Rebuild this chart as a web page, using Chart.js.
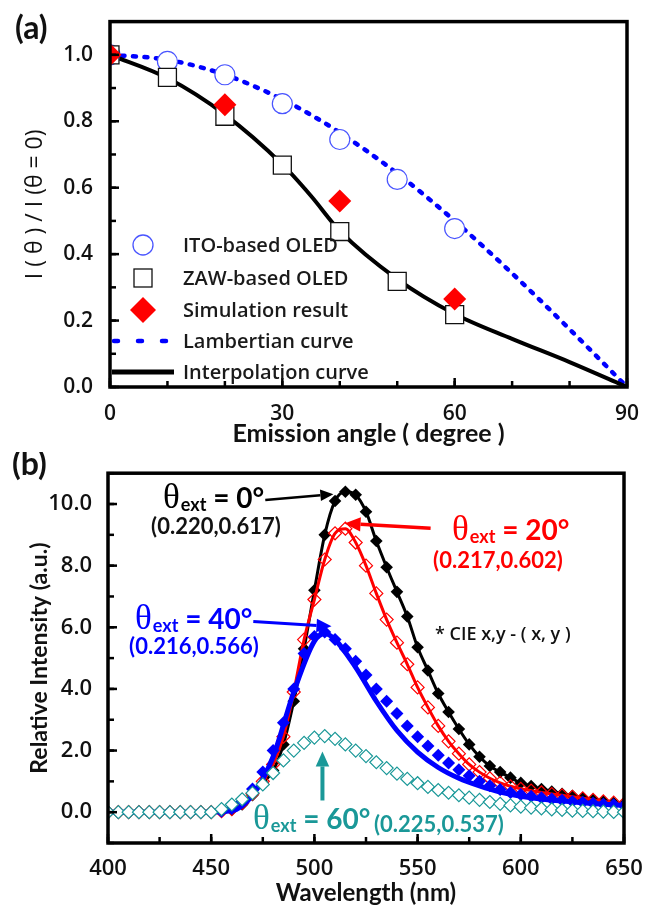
<!DOCTYPE html>
<html>
<head>
<meta charset="utf-8">
<script src="https://cdn.jsdelivr.net/npm/chart.js@4.4.1/dist/chart.umd.min.js"></script>
<style>
  body { margin: 0; background: #fff; }
  canvas { display: block; }
</style>
</head>
<body>
<canvas id="chartA" width="661" height="452"></canvas>
<canvas id="chartB" width="661" height="457"></canvas>
<script>
const FONT = "Lato, 'Open Sans', sans-serif";
const TICK_FONT = "'Open Sans', Lato, sans-serif";
const TEAL = '#1a9898';

// ---- (a) angular emission profile ----
const angleTicks = [0, 30, 60, 90];
const ratioTicks = [0, 0.2, 0.4, 0.6, 0.8, 1.0];
const measuredAngles = [0, 10, 20, 30, 40, 50, 60];
const itoRatio = [1.0, 0.98, 0.94, 0.853, 0.745, 0.625, 0.477];
const zawRatio = [1.0, 0.932, 0.815, 0.668, 0.468, 0.318, 0.218];
const simAngles = [0, 20, 40, 60];
const simRatio = [1.0, 0.85, 0.56, 0.265];
const curveAngles = [0, 10, 20, 30, 35, 40, 50, 60, 70, 80, 90];
const lambertRatio = [1.0, 0.985, 0.94, 0.866, 0.819, 0.766, 0.643, 0.5, 0.342, 0.174, 0.0];
const interpRatio = [1.0, 0.93, 0.82, 0.67, 0.575, 0.47, 0.325, 0.22, 0.145, 0.075, 0.0];
const legendLabelsA = ['ITO-based OLED', 'ZAW-based OLED', 'Simulation result', 'Lambertian curve', 'Interpolation curve'];

// ---- (b) spectra at different viewing angles ----
const wavelengthTicks = [400, 450, 500, 550, 600, 650];
const intensityTicks = [0, 2, 4, 6, 8, 10];
const wavelengths = [400, 405, 410, 415, 420, 425, 430, 435, 440, 445, 450, 455,
  460, 465, 470, 475, 480, 485, 490, 495, 500, 505,
  510, 515, 520, 525, 530, 535, 540, 545, 550, 555,
  560, 565, 570, 575, 580, 585, 590, 595, 600, 605,
  610, 615, 620, 625, 630, 635, 640, 645, 650];
const spec0 = [0, 0, 0, 0, 0, 0, 0, 0, 0, 0, 0, 0.02,
  0.08, 0.25, 0.55, 0.95, 1.35, 2.2, 3.6, 5.3, 7.2, 9.0,
  10.1, 10.4, 10.3, 9.75, 8.8, 7.95, 7.15, 6.35, 5.35, 4.6,
  3.85, 3.25, 2.7, 2.2, 1.8, 1.5, 1.3, 1.12, 0.95, 0.85,
  0.75, 0.67, 0.6, 0.53, 0.46, 0.4, 0.35, 0.3, 0.26];
const spec20 = [0, 0, 0, 0, 0, 0, 0, 0, 0, 0, 0, 0.03,
  0.1, 0.3, 0.6, 1.0, 1.55, 2.45, 3.9, 5.6, 6.9, 8.2,
  9.05, 9.2, 8.75, 8.0, 7.1, 6.25, 5.5, 4.8, 4.05, 3.4,
  2.8, 2.3, 1.9, 1.55, 1.3, 1.1, 0.95, 0.84, 0.76, 0.7,
  0.64, 0.59, 0.55, 0.5, 0.45, 0.4, 0.35, 0.31, 0.27];
const spec40 = [0, 0, 0, 0, 0, 0, 0, 0, 0, 0, 0, 0.03,
  0.12, 0.35, 0.75, 1.3, 2.0, 2.9, 4.0, 5.15, 5.7, 5.85,
  5.6, 5.3, 4.9, 4.45, 4.0, 3.6, 3.2, 2.8, 2.45, 2.15,
  1.85, 1.6, 1.38, 1.18, 1.0, 0.86, 0.74, 0.64, 0.57, 0.52,
  0.47, 0.43, 0.39, 0.35, 0.32, 0.29, 0.26, 0.24, 0.22];
const spec60 = [0, 0, 0, 0, 0, 0, 0, 0, 0, 0, 0, 0.1,
  0.25, 0.42, 0.62, 0.9, 1.27, 1.68, 2.0, 2.25, 2.42, 2.47,
  2.38, 2.2, 2.0, 1.82, 1.62, 1.43, 1.25, 1.08, 0.94, 0.82,
  0.72, 0.63, 0.55, 0.47, 0.4, 0.33, 0.27, 0.22, 0.18, 0.15,
  0.12, 0.09, 0.07, 0.05, 0.04, 0.03, 0.02, 0.01, 0];
// smooth curve under the 40° markers
const fit40Wavelengths = [400, 420, 440, 460, 470, 480, 490, 500, 505, 510, 520,
  530, 540, 550, 560, 570, 580, 590, 600, 620, 640, 650];
const fit40 = [0, 0, 0, 0.05, 0.55, 1.8, 3.9, 5.55, 5.8, 5.6, 4.7,
  3.6, 2.65, 1.95, 1.45, 1.1, 0.85, 0.65, 0.52, 0.36, 0.26, 0.22];
const angleLabels = ['0°', '20°', '40°', '60°'];
const cieLabels = ['(0.220,0.617)', '(0.217,0.602)', '(0.216,0.566)', '(0.225,0.537)'];

const pts = (xs, ys) => xs.map((x, i) => ({ x, y: ys[i] }));

// box around the plot plus inward major/minor ticks on left and bottom
const framePlugin = {
  id: 'frame',
  afterDatasetsDraw(chart, args, opts) {
    const { ctx, chartArea: a, scales: { x, y } } = chart;
    ctx.save();
    ctx.strokeStyle = '#000';
    ctx.lineWidth = 2.5;
    const xTick = (v, len) => {
      const p = x.getPixelForValue(v);
      ctx.beginPath(); ctx.moveTo(p, a.bottom); ctx.lineTo(p, a.bottom - len); ctx.stroke();
    };
    const yTick = (v, len) => {
      const p = y.getPixelForValue(v);
      ctx.beginPath(); ctx.moveTo(a.left, p); ctx.lineTo(a.left + len, p); ctx.stroke();
    };
    for (let v = x.min; v <= x.max + 1e-9; v += opts.xStep) xTick(v, 6);
    for (let v = y.min; v <= y.max + 1e-9; v += opts.yStep) yTick(v, 6);
    opts.xMajor.forEach(v => xTick(v, 9));
    opts.yMajor.forEach(v => yTick(v, 9));
    ctx.lineWidth = 3.5;
    ctx.strokeRect(a.left, a.top, a.right - a.left, a.bottom - a.top);
    ctx.restore();
  }
};

function panelLabel(ctx, text, x, y) {
  ctx.save();
  ctx.font = `bold 32px ${FONT}`;
  ctx.fillStyle = '#111';
  ctx.textBaseline = 'middle';
  ctx.fillText(text, x, y);
  ctx.restore();
}

// legend drawn inside panel (a)
const legendA = {
  id: 'legendA',
  afterDraw(chart) {
    const ctx = chart.ctx;
    const sx = 143, tx = 183;
    const rows = [245, 278, 310, 341, 372];
    ctx.save();
    ctx.lineWidth = 1.3;
    ctx.strokeStyle = '#4a55ff';
    ctx.beginPath(); ctx.arc(sx, rows[0], 10, 0, Math.PI * 2); ctx.stroke();
    ctx.strokeStyle = '#111';
    ctx.strokeRect(sx - 9, rows[1] - 9, 18, 18);
    ctx.fillStyle = '#ff0000';
    ctx.beginPath();
    ctx.moveTo(sx - 13, rows[2]); ctx.lineTo(sx, rows[2] - 13);
    ctx.lineTo(sx + 13, rows[2]); ctx.lineTo(sx, rows[2] + 13);
    ctx.closePath(); ctx.fill();
    ctx.strokeStyle = '#0000ff';
    ctx.lineWidth = 4.5;
    ctx.lineCap = 'round';
    ctx.setLineDash([4, 20]);
    ctx.beginPath(); ctx.moveTo(114, rows[3]); ctx.lineTo(172, rows[3]); ctx.stroke();
    ctx.setLineDash([]);
    ctx.lineCap = 'butt';
    ctx.strokeStyle = '#000';
    ctx.lineWidth = 5;
    ctx.beginPath(); ctx.moveTo(112, rows[4]); ctx.lineTo(174, rows[4]); ctx.stroke();
    ctx.font = `600 20px ${TICK_FONT}`;
    ctx.fillStyle = '#1a1a1a';
    ctx.textBaseline = 'middle';
    legendLabelsA.forEach((t, i) => ctx.fillText(t, tx, rows[i] + 1));
    ctx.restore();
    panelLabel(ctx, '(a)', 15, 29);
  }
};

function arrow(ctx, x0, y0, x1, y1, color, w, head) {
  const ang = Math.atan2(y1 - y0, x1 - x0);
  const bx = x1 - head * Math.cos(ang), by = y1 - head * Math.sin(ang);
  const hw = head * 0.45;
  ctx.strokeStyle = color; ctx.fillStyle = color; ctx.lineWidth = w;
  ctx.beginPath(); ctx.moveTo(x0, y0); ctx.lineTo(bx, by); ctx.stroke();
  ctx.beginPath();
  ctx.moveTo(x1, y1);
  ctx.lineTo(bx + hw * Math.sin(ang), by - hw * Math.cos(ang));
  ctx.lineTo(bx - hw * Math.sin(ang), by + hw * Math.cos(ang));
  ctx.closePath(); ctx.fill();
}

function drawTheta(ctx, x, y, angle, color) {
  ctx.fillStyle = color;
  ctx.textAlign = 'left';
  ctx.textBaseline = 'alphabetic';
  ctx.font = "35px 'Liberation Serif', serif";
  ctx.fillText('θ', x, y);
  x += ctx.measureText('θ').width + 1;
  ctx.font = `bold 18px ${FONT}`;
  ctx.fillText('ext', x, y + 3);
  x += ctx.measureText('ext').width;
  ctx.font = `bold 28px ${FONT}`;
  ctx.fillText(' = ' + angle, x, y);
}

function coordText(ctx, text, x, y, color, align) {
  ctx.fillStyle = color;
  ctx.textAlign = align;
  ctx.textBaseline = 'middle';
  ctx.font = `bold 22px ${FONT}`;
  ctx.fillText(text, x, y);
}

// arrows (in data units) and texts for panel (b); text y is relative to this canvas (top at 452)
const annotateB = {
  id: 'annotateB',
  afterDraw(chart) {
    const { ctx, scales: { x, y } } = chart;
    const px = v => x.getPixelForValue(v), py = v => y.getPixelForValue(v);
    ctx.save();
    arrow(ctx, px(476.2), py(10.13), px(509.2), py(10.32), '#000', 2.5, 13);
    arrow(ctx, px(556.3), py(9.21), px(514.6), py(9.37), '#ff0000', 3.5, 16);
    arrow(ctx, px(470.4), py(6.19), px(508.3), py(6.03), '#0000ff', 3, 15);
    arrow(ctx, px(503.9), py(0.38), px(503.9), py(1.97), TEAL, 4, 15);

    drawTheta(ctx, 163, 56, angleLabels[0], '#000');
    coordText(ctx, cieLabels[0], 216, 75, '#111', 'center');
    drawTheta(ctx, 452, 88, angleLabels[1], '#ff0000');
    coordText(ctx, cieLabels[1], 498, 109, '#ff0000', 'center');
    drawTheta(ctx, 135, 177, angleLabels[2], '#0000ff');
    coordText(ctx, cieLabels[2], 194, 195, '#0000ff', 'center');
    drawTheta(ctx, 253, 377, angleLabels[3], TEAL);
    coordText(ctx, cieLabels[3], 374, 373, TEAL, 'left');

    ctx.font = `600 18px ${TICK_FONT}`;
    ctx.fillStyle = '#111';
    ctx.textAlign = 'left';
    ctx.textBaseline = 'middle';
    ctx.fillText('* CIE x,y - ( x, y )', 435, 183);
    ctx.restore();
    panelLabel(ctx, '(b)', 12, 13);
  }
};

function tickFont(size) {
  return { family: TICK_FONT, size, weight: '600' };
}

// ---------- panel (a) ----------
new Chart(document.getElementById('chartA'), {
  type: 'scatter',
  data: {
    datasets: [
      {
        label: 'Simulation result', data: pts(simAngles, simRatio),
        pointStyle: 'rectRot', pointRadius: 11.5, pointBorderWidth: 0,
        pointBackgroundColor: '#ff0000', pointBorderColor: '#ff0000'
      },
      {
        label: 'ZAW-based OLED', data: pts(measuredAngles, zawRatio),
        pointStyle: 'rect', pointRadius: 12.7, pointBorderWidth: 1.3,
        pointBackgroundColor: '#fff', pointBorderColor: '#111'
      },
      {
        label: 'ITO-based OLED', data: pts(measuredAngles, itoRatio),
        pointStyle: 'circle', pointRadius: 10, pointBorderWidth: 1.2,
        pointBackgroundColor: '#fff', pointBorderColor: '#4a55ff'
      },
      {
        label: 'Interpolation curve', data: pts(curveAngles, interpRatio),
        showLine: true, pointRadius: 0, borderColor: '#000', borderWidth: 4,
        cubicInterpolationMode: 'monotone'
      },
      {
        label: 'Lambertian curve', data: pts(curveAngles, lambertRatio),
        showLine: true, pointRadius: 0, borderColor: '#0000ff', borderWidth: 4.5,
        borderDash: [3, 8.5], borderCapStyle: 'round',
        cubicInterpolationMode: 'monotone'
      }
    ]
  },
  options: {
    responsive: false,
    animation: false,
    events: [],
    layout: { padding: { top: 11, right: 34, left: 0, bottom: 0 } },
    plugins: {
      legend: { display: false },
      tooltip: { enabled: false },
      frame: { xStep: 10, yStep: 0.1, xMajor: angleTicks, yMajor: ratioTicks }
    },
    scales: {
      x: {
        type: 'linear', min: 0, max: 90,
        afterBuildTicks: s => { s.ticks = angleTicks.map(v => ({ value: v })); },
        afterFit: s => { s.height = 65; },
        grid: { display: false }, border: { display: false },
        ticks: { padding: 6, color: '#111', font: tickFont(21), callback: v => v },
        title: {
          display: true, text: 'Emission angle ( degree )', color: '#111',
          font: { family: FONT, size: 25, weight: 'bold' }, padding: { top: 0, bottom: 3 }
        }
      },
      y: {
        type: 'linear', min: 0, max: 1.1,
        afterBuildTicks: s => { s.ticks = ratioTicks.map(v => ({ value: v })); },
        afterFit: s => { s.width = 110; },
        grid: { display: false }, border: { display: false },
        ticks: { padding: 9, color: '#111', font: tickFont(21), callback: v => v.toFixed(1) },
        title: {
          display: true, text: 'I ( θ ) / I (θ = 0)', color: '#111',
          font: { family: TICK_FONT, size: 23, weight: '500' }, padding: { top: 22, bottom: 0 }
        }
      }
    }
  },
  plugins: [framePlugin, legendA]
});

// ---------- panel (b) ----------
new Chart(document.getElementById('chartB'), {
  type: 'scatter',
  data: {
    datasets: [
      {
        label: '60°', data: pts(wavelengths, spec60),
        pointStyle: 'rectRot', pointRadius: 6.5, pointBorderWidth: 1.2,
        pointBackgroundColor: '#fff', pointBorderColor: TEAL
      },
      {
        label: '40° fit', data: pts(fit40Wavelengths, fit40),
        showLine: true, pointRadius: 0, borderColor: '#0000ff', borderWidth: 5,
        cubicInterpolationMode: 'monotone'
      },
      {
        label: '40°', data: pts(wavelengths, spec40),
        pointStyle: 'rectRot', pointRadius: 6.5, pointBorderWidth: 0,
        pointBackgroundColor: '#0000ff', pointBorderColor: '#0000ff'
      },
      {
        label: '20°', data: pts(wavelengths, spec20),
        showLine: true, borderColor: '#ff0000', borderWidth: 3,
        cubicInterpolationMode: 'monotone',
        pointStyle: 'rectRot', pointRadius: 6.5, pointBorderWidth: 1.2,
        pointBackgroundColor: 'rgba(255,255,255,0)', pointBorderColor: '#ff0000'
      },
      {
        label: '0°', data: pts(wavelengths, spec0),
        showLine: true, borderColor: '#000', borderWidth: 3,
        cubicInterpolationMode: 'monotone',
        pointStyle: 'rectRot', pointRadius: 6.3, pointBorderWidth: 0,
        pointBackgroundColor: '#000', pointBorderColor: '#000'
      }
    ]
  },
  options: {
    responsive: false,
    animation: false,
    events: [],
    layout: { padding: { top: 15, right: 37, left: 0, bottom: 0 } },
    plugins: {
      legend: { display: false },
      tooltip: { enabled: false },
      frame: { xStep: 25, yStep: 1, xMajor: wavelengthTicks, yMajor: intensityTicks }
    },
    scales: {
      x: {
        type: 'linear', min: 400, max: 650,
        afterBuildTicks: s => { s.ticks = wavelengthTicks.map(v => ({ value: v })); },
        afterFit: s => { s.height = 66; },
        grid: { display: false }, border: { display: false },
        ticks: { padding: 5, color: '#111', font: tickFont(22), callback: v => v },
        title: {
          display: true, text: 'Wavelength (nm)', color: '#111',
          font: { family: FONT, size: 24, weight: 'bold' }, padding: { top: 0, bottom: 1 }
        }
      },
      y: {
        type: 'linear', min: -1, max: 11,
        afterBuildTicks: s => { s.ticks = intensityTicks.map(v => ({ value: v })); },
        afterFit: s => { s.width = 108; },
        grid: { display: false }, border: { display: false },
        ticks: { padding: 8, color: '#111', font: tickFont(22), callback: v => v.toFixed(1) },
        title: {
          display: true, text: 'Relative Intensity (a.u.)', color: '#111',
          font: { family: FONT, size: 23, weight: 'bold' }, padding: { top: 26, bottom: 0 }
        }
      }
    }
  },
  plugins: [framePlugin, annotateB]
});
</script>
</body>
</html>
